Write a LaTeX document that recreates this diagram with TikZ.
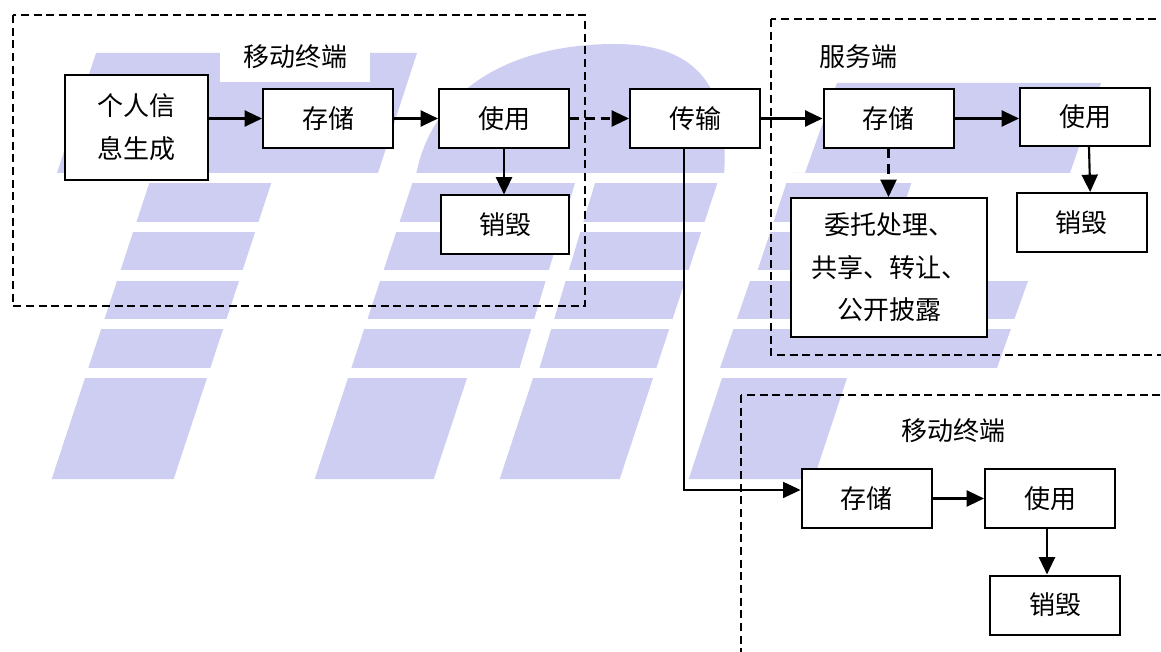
\documentclass[tikz,border=0pt]{standalone}
\usepackage{fontspec}
\setmainfont{Noto Sans CJK SC}
\usetikzlibrary{arrows.meta}
\definecolor{wmblue}{RGB}{206,206,242}
\tikzset{every picture/.style={line width=0.75pt}}
\tikzset{
  blk/.style={draw, fill=white, line width=1.5pt, minimum width=97.5pt, minimum height=44.25pt, inner sep=0pt, align=center, font=\fontsize{19.5pt}{32pt}\selectfont},
  lbl/.style={inner sep=0.75pt, font=\fontsize{19.5pt}{32pt}\selectfont},
  arr/.style={line width=1.6pt, -{Triangle[length=13pt,width=12pt]}},
  darr/.style={arr, dash pattern=on 7pt off 4.5pt},
  frame/.style={line width=1.1pt, dash pattern=on 6pt off 3.5pt},
}
\begin{document}
\begin{tikzpicture}[x=0.75pt,y=0.75pt,yscale=-1,xscale=1]
\useasboundingbox (0,0) rectangle (1161,652);

%Shape: Watermark T
\fill[wmblue] (96,53) -- (417,53) -- (378,173) -- (57,173) -- cycle;
\fill[wmblue] (152.6,173) -- (274.6,173) -- (173.7,479) -- (51.7,479) -- cycle;
%Shape: Watermark A
\fill[wmblue] (416,175) .. controls (432,90) and (510,44) .. (615,44) .. controls (700,44) and (730,90) .. (724,175) -- cycle;
\fill[wmblue] (415.7,173) -- (578,173) -- (518,373) -- (349.7,373) -- cycle;
\fill[wmblue] (598,173) -- (720.7,173) -- (654.7,373) -- (538,373) -- cycle;
\fill[wmblue] (349.7,373) -- (468.7,373) -- (433.7,479) -- (314.7,479) -- cycle;
\fill[wmblue] (534.7,373) -- (654.7,373) -- (619.7,479) -- (499.7,479) -- cycle;
%Shape: Watermark F
\fill[wmblue] (837,83) -- (1101,83) -- (1070,173) -- (805,173) -- cycle;
\fill[wmblue] (789.7,173) -- (914.7,173) -- (813.7,479) -- (688.7,479) -- cycle;
\fill[wmblue] (750,281) -- (1028,281) -- (997,368) -- (720,368) -- cycle;
%Shape: Watermark gaps
\foreach \ya/\yb in {173/183, 222/232, 270/281, 319/329, 368/378}
  \fill[white] (0,\ya) rectangle (1161,\yb);

%Shape: Dashed frames
\draw[frame] (13,15) rectangle (585,306);
\draw[frame] (771,19) rectangle (1185,355);
\draw[frame] (741,395) rectangle (1185,680);

% Text Node
\node[lbl, fill=white, minimum width=113pt, minimum height=37.5pt] (tagL) at (295,57) {移动终端};
% Text Node
\node[lbl] (tagS) at (858,57) {服务端};
% Text Node
\node[lbl] (tagB) at (953,431) {移动终端};

%Shape: Rectangle
\node[blk, minimum width=107.25pt, minimum height=78.75pt] (gen) at (136.5,127.5) {个人信\\息生成};
\node[blk] (cunL) at (328,118.5) {存储};
\node[blk] (yongL) at (504,118.5) {使用};
\node[blk, minimum width=96pt] (xiaoL) at (505,225) {销毁};
\node[blk] (chuan) at (695,118.5) {传输};
\node[blk] (cunS) at (888.5,118.5) {存储};
\node[blk, minimum height=43.5pt] (yongS) at (1085,117) {使用};
\node[blk] (xiaoS) at (1081.5,222.5) {销毁};
\node[blk, minimum width=147pt, minimum height=104.25pt] (weituo) at (889,267.5) {委托处理、\\共享、转让、\\公开披露};
\node[blk] (cunB) at (866.5,498.5) {存储};
\node[blk] (yongB) at (1050,498.5) {使用};
\node[blk] (xiaoB) at (1055,605) {销毁};

%Straight Lines
\draw[arr] (gen.east |- cunL.west) -- (cunL.west);
\draw[arr] (cunL.east) -- (yongL.west);
\draw[arr] (yongL.south) -- (yongL.south |- xiaoL.north);
\draw[darr] (yongL.east) -- (chuan.west);
\draw[arr] (chuan.east) -- (cunS.west);
\draw[arr] (cunS.east) -- (cunS.east -| yongS.west);
\draw[arr] ([xshift=3pt]yongS.south) -- ([xshift=6.5pt]xiaoS.north);
\draw[darr] (cunS.south) -- (cunS.south |- weituo.north);
\draw[arr, line width=1pt] ([xshift=-8.25pt]chuan.south) |- ([yshift=-6.4pt]cunB.west);
\draw[arr] (cunB.east) -- (yongB.west);
\draw[arr] ([xshift=-2.25pt]yongB.south) -- ([xshift=-2.25pt]yongB.south |- xiaoB.north);

\end{tikzpicture}
\end{document}
